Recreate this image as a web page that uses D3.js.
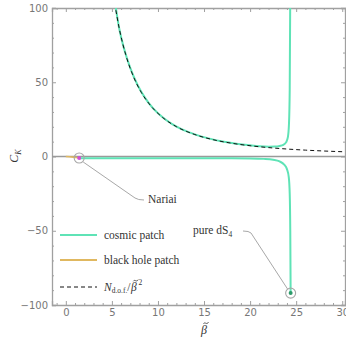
<!DOCTYPE html>
<html>
<head>
<meta charset="utf-8">
<script src="https://cdn.jsdelivr.net/npm/d3@7"></script>
<style>
body { margin: 0; background: #fff; }
svg { display: block; }
.tk text { font-family: "DejaVu Sans", sans-serif; font-size: 10px; fill: #777; }
.tk path, .tk line { stroke: #a0a0a0; }
.serif { font-family: "Liberation Serif", "DejaVu Serif", serif; fill: #333; }
</style>
</head>
<body>
<script>
var width = 346, height = 345;

// data
var cosmicUpperBeta = [5.43, 5.8, 6.3, 7, 7.8, 8.6, 9.5, 10.5, 11.5, 12.5, 14, 15.5, 17, 18.5, 20, 21, 22, 22.7, 23.2, 23.6, 23.9, 24.1, 24.22, 24.3, 24.35];
var cosmicUpperC = [100, 86, 73, 59.5, 48, 39.5, 32.2, 26.4, 22, 18.6, 14.9, 12.2, 10.1, 8.6, 7.5, 6.9, 6.6, 6.7, 7.1, 7.8, 9.5, 13, 22, 45, 100];
var cosmicLowerBeta = [1.45, 3, 6, 10, 14, 18, 20, 21.5, 22.5, 23.2, 23.7, 24, 24.2, 24.3, 24.36, 24.4];
var cosmicLowerC = [-1.1, -1.1, -1.1, -1.1, -1.1, -1.2, -1.3, -1.6, -2.2, -3.3, -5.5, -8.5, -14, -25, -50, -92];
var bhBeta = [0, 0.4, 0.8, 1.15, 1.45];
var bhC = [0, -0.15, -0.4, -0.7, -1.0];
var ndofBeta = [5.3, 5.8, 6.5, 7.3, 8.2, 9.2, 10.5, 12, 14, 16, 18, 20, 22, 24, 26, 28, 30.3];
var ndofC = [103.2, 86.2, 68.6, 54.4, 43.1, 34.3, 26.3, 20.1, 14.8, 11.3, 8.95, 7.25, 5.99, 5.03, 4.29, 3.70, 3.16];
var specialBeta = [1.45, 24.4];
var specialC = [-1.0, -92];
var specialNames = ["Nariai", "pure dS"];
var xMajor = [0, 5, 10, 15, 20, 25, 30];
var yMajor = [-100, -50, 0, 50, 100];
var legendNames = ["cosmic patch", "black hole patch"];

var teal = "#5fe3b6", gold = "#e0b860";

var svg = d3.select("body").append("svg")
    .attr("width", width)
    .attr("height", height);

var pL = 52, pR = 345, pT = 8, pB = 305;

var x = d3.scaleLinear().domain([-1.5, 30.3]).range([pL, pR]);
var y = d3.scaleLinear().domain([-100, 100]).range([pB, pT]);

var xMinor = d3.range(-1, 31, 1).filter(function(d) { return d % 5 != 0; });
var yMinor = d3.range(-90, 100, 10).filter(function(d) { return d % 50 != 0; });

function addAxis(gen, tf, major, minor, labels) {
  var g = svg.append("g").attr("class", "tk").attr("transform", tf)
    .call(gen.tickValues(major).tickSize(-4).tickPadding(4).tickFormat(labels ? d3.format("") : ""));
  g.select(".domain").attr("stroke-width", 1.3);
  var m = svg.append("g").attr("class", "tk").attr("transform", tf)
    .call(gen.tickValues(minor).tickSize(-2).tickFormat(""));
  m.select(".domain").remove();
  return g;
}

svg.append("clipPath").attr("id", "clip").append("rect")
  .attr("x", pL).attr("y", pT).attr("width", pR - pL).attr("height", pB - pT);

addAxis(d3.axisBottom(x), "translate(0," + pB + ")", xMajor, xMinor, true);
addAxis(d3.axisTop(x), "translate(0," + pT + ")", xMajor, xMinor, false);
addAxis(d3.axisLeft(y), "translate(" + pL + ",0)", yMajor, yMinor, true);
addAxis(d3.axisRight(y), "translate(" + pR + ",0)", yMajor, yMinor, false);

// zero line
svg.append("line")
  .attr("x1", pL).attr("x2", pR)
  .attr("y1", y(0)).attr("y2", y(0))
  .attr("stroke", "#9a9a9a").attr("stroke-width", 1.5);

var line = d3.line().x(function(d) { return x(d[0]); }).y(function(d) { return y(d[1]); });
var plot = svg.append("g").attr("clip-path", "url(#clip)");

function series(bs, cs, color, w, dash) {
  plot.append("path")
    .datum(d3.zip(bs, cs))
    .attr("d", line.curve(d3.curveMonotoneX))
    .attr("fill", "none")
    .attr("stroke", color)
    .attr("stroke-width", w)
    .attr("stroke-dasharray", dash || null);
}

series(cosmicUpperBeta, cosmicUpperC, teal, 2);
series(cosmicLowerBeta, cosmicLowerC, teal, 2);
series(bhBeta, bhC, gold, 1.6);
series(ndofBeta, ndofC, "#111", 1, "4,3");

// callouts
var grey = "#a8a8a8";
svg.append("path")
  .attr("d", "M" + (x(specialBeta[0]) + 4) + "," + (y(specialC[0]) + 4) + " L135,198 Q138,200 144,200")
  .attr("fill", "none").attr("stroke", grey).attr("stroke-width", 1);
svg.append("path")
  .attr("d", "M" + (x(specialBeta[1]) - 3) + "," + (y(specialC[1]) - 4) + " L251,233 Q249,231 243,231")
  .attr("fill", "none").attr("stroke", grey).attr("stroke-width", 1);

var fs = 11.5;
svg.append("text").attr("class", "serif").attr("x", 148).attr("y", 203)
  .attr("font-size", fs).text(specialNames[0]);
var t = svg.append("text").attr("class", "serif").attr("x", 193).attr("y", 234)
  .attr("font-size", fs).text(specialNames[1]);
t.append("tspan").attr("font-size", 7.5).attr("dy", 3).text("4");

var markColors = ["#d050d8", "#2e9a6a"];
specialBeta.forEach(function(b, i) {
  svg.append("circle").attr("cx", x(b)).attr("cy", y(specialC[i])).attr("r", 5)
    .attr("fill", "none").attr("stroke", grey).attr("stroke-width", 1.1);
  svg.append("circle").attr("cx", x(b)).attr("cy", y(specialC[i])).attr("r", 2)
    .attr("fill", markColors[i]);
});

// beta with a drawn tilde on top
function betaTilde(px, py, size) {
  var g = svg.append("g");
  g.append("text").attr("class", "serif").attr("font-size", size).attr("font-style", "italic")
    .attr("x", px).attr("y", py).text("β");
  var tx = px + size * 0.2, ty = py - size * 0.92, w = size * 0.42, a = size * 0.07;
  g.append("path")
    .attr("d", "M" + tx + "," + (ty + a) + " C" + (tx + w * 0.3) + "," + (ty - 2 * a) + " " +
      (tx + w * 0.7) + "," + (ty + 3 * a) + " " + (tx + w) + "," + (ty - a))
    .attr("fill", "none").attr("stroke", "#333").attr("stroke-width", 0.8);
  return g;
}

// legend
var lg = svg.append("g");
[teal, gold].forEach(function(c, i) {
  var yy = 235 + i * 25;
  lg.append("line").attr("x1", 60).attr("x2", 97).attr("y1", yy).attr("y2", yy)
    .attr("stroke", c).attr("stroke-width", 2);
  lg.append("text").attr("class", "serif").attr("x", 104).attr("y", yy + 4)
    .attr("font-size", fs).text(legendNames[i]);
});
lg.append("line").attr("x1", 60).attr("x2", 97).attr("y1", 287).attr("y2", 287)
  .attr("stroke", "#111").attr("stroke-width", 1).attr("stroke-dasharray", "4,3");
var nt = lg.append("text").attr("class", "serif").attr("x", 104).attr("y", 291).attr("font-size", fs);
nt.append("tspan").attr("font-style", "italic").text("N");
nt.append("tspan").attr("font-size", 7.5).attr("dy", 2).text("d.o.f.");
nt.append("tspan").attr("dy", -2).text("/");
var nEnd = 104 + nt.node().getComputedTextLength();
betaTilde(nEnd + 0.5, 291, fs);
svg.append("text").attr("class", "serif").attr("font-size", 7.5).attr("x", nEnd + 8).attr("y", 285).text("2");

// axis labels
var yl = svg.append("text").attr("class", "serif").attr("font-size", 12)
  .attr("transform", "translate(18,156) rotate(-90)").attr("text-anchor", "middle");
yl.append("tspan").attr("font-style", "italic").text("C");
yl.append("tspan").attr("font-style", "italic").attr("font-size", 8).attr("dy", 3).text("K");

betaTilde(201, 334, 12);
</script>
</body>
</html>
